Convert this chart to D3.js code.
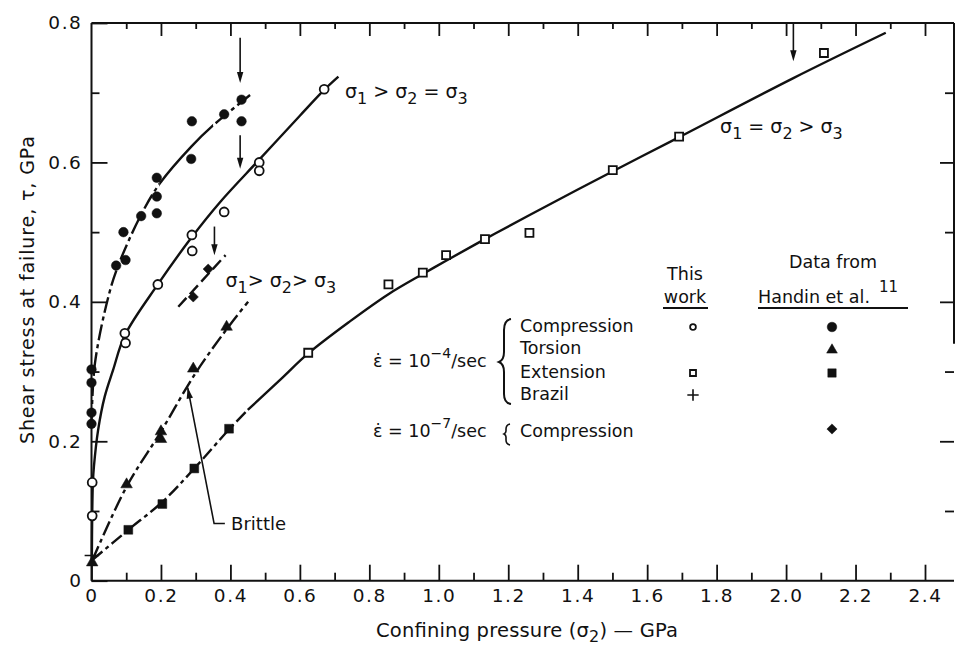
<!DOCTYPE html>
<html><head><meta charset="utf-8">
<script src="https://cdn.jsdelivr.net/npm/d3@7"></script>
<style>body{margin:0;background:#fff}</style>
</head><body>
<svg id="chart" width="957" height="645"></svg>
<script>
// ---------- data ----------
const xMajorTicks = [0, 0.2, 0.4, 0.6, 0.8, 1.0, 1.2, 1.4, 1.6, 1.8, 2.0, 2.2, 2.4];
const xTickLabels = ["0", "0.2", "0.4", "0.6", "0.8", "1.0", "1.2", "1.4", "1.6", "1.8", "2.0", "2.2", "2.4"];
const xMinorTicks = [0.1, 0.3, 0.5, 0.7, 0.9, 1.1, 1.3, 1.5, 1.7, 1.9, 2.1, 2.3];
const yMajorTicks = [0, 0.2, 0.4, 0.6, 0.8];
const yTickLabels = ["0", "0.2", "0.4", "0.6", "0.8"];
const yMinorTicks = [0.1, 0.3, 0.5, 0.7];

// Handin et al. — compression 1e-4/s (filled circles)
const handinCompression = [
  [0.289, 0.659], [0.382, 0.669], [0.432, 0.690], [0.432, 0.659], [0.287, 0.605],
  [0.188, 0.578], [0.188, 0.551], [0.188, 0.527], [0.143, 0.523], [0.092, 0.500],
  [0.071, 0.452], [0.098, 0.460], [0.0, 0.303], [0.0, 0.284], [0.0, 0.241], [0.0, 0.225]
];
// This work — compression (open circles)
const thisCompression = [
  [0.670, 0.705], [0.483, 0.600], [0.483, 0.588], [0.382, 0.529], [0.289, 0.496],
  [0.290, 0.473], [0.191, 0.425], [0.096, 0.355], [0.098, 0.341], [0.002, 0.141], [0.002, 0.093]
];
// This work — extension (open squares)
const thisExtension = [
  [0.624, 0.327], [0.855, 0.425], [0.954, 0.442], [1.021, 0.467], [1.133, 0.490],
  [1.261, 0.499], [1.501, 0.589], [1.692, 0.637], [2.109, 0.757]
];
// Handin et al. — extension (filled squares)
const handinExtension = [[0.106, 0.073], [0.204, 0.110], [0.296, 0.161], [0.396, 0.218]];
// Handin et al. — torsion (filled triangles)
const handinTorsion = [[0.002, 0.026], [0.101, 0.138], [0.200, 0.203], [0.200, 0.214], [0.293, 0.304], [0.389, 0.364]];
// This work — Brazil (+)
const thisBrazil = [[0.001, 0.036]];
// Handin et al. — compression 1e-7/s (diamonds)
const handinSlowCompression = [[0.293, 0.407], [0.336, 0.447]];

// fitted curves
const fitHandinCompression = [[0.0, 0.225], [0.010, 0.312], [0.051, 0.412], [0.080, 0.456], [0.145, 0.527],
  [0.197, 0.570], [0.288, 0.623], [0.350, 0.653], [0.465, 0.700]];
const fitThisCompression = [[0.001, 0.030], [0.002, 0.093], [0.004, 0.141], [0.007, 0.164], [0.019, 0.216],
  [0.038, 0.264], [0.062, 0.302], [0.096, 0.352], [0.191, 0.425], [0.289, 0.493], [0.370, 0.543],
  [0.483, 0.604], [0.600, 0.667], [0.670, 0.704], [0.711, 0.723]];
const fitTorsion = [[0.003, 0.030], [0.100, 0.134], [0.200, 0.214], [0.300, 0.298], [0.400, 0.368], [0.451, 0.400]];
const fitExtensionLow = [[0.003, 0.030], [0.106, 0.073], [0.204, 0.113], [0.296, 0.161], [0.396, 0.217], [0.450, 0.245]];
const fitExtension = [[0.450, 0.245], [0.543, 0.288], [0.624, 0.326], [0.744, 0.372], [0.855, 0.411],
  [0.954, 0.440], [1.021, 0.459], [1.133, 0.490], [1.263, 0.525], [1.500, 0.587], [1.691, 0.636],
  [2.021, 0.721], [2.287, 0.786]];
const fitSlowCompression = [[0.250, 0.393], [0.386, 0.467]];

// vertical marker arrows: [x, yStart, yTip]
const arrowMarks = [[0.428, 0.779, 0.714], [0.428, 0.639, 0.591], [0.354, 0.508, 0.467], [2.021, 0.800, 0.745]];
// "Brittle" leader: label end -> elbow -> tip
const brittleLeader = [[0.384, 0.082], [0.353, 0.082], [0.277, 0.277]];

// ---------- layout ----------
const svg = d3.select("#chart");
const FONT = "'DejaVu Sans', sans-serif";
const x = d3.scaleLinear().domain([0, 2.4]).range([91.5, 925]);
const y = d3.scaleLinear().domain([0, 0.8]).range([580.7, 23]);
const rightEdge = 954;
const INK = "#111";

// frame
const frame = svg.append("g").attr("stroke", INK).attr("stroke-width", 2).attr("fill", "none");
frame.append("line").attr("x1", x(0)).attr("x2", rightEdge).attr("y1", y(0)).attr("y2", y(0));
frame.append("line").attr("x1", x(0)).attr("x2", rightEdge).attr("y1", y(0.8)).attr("y2", y(0.8));
frame.append("line").attr("x1", x(0)).attr("x2", x(0)).attr("y1", y(0)).attr("y2", y(0.8));
frame.append("line").attr("x1", rightEdge).attr("x2", rightEdge).attr("y1", y(0.8)).attr("y2", y(0.34));

function drawAxis(axis, transform, labels) {
  const g = svg.append("g").attr("transform", transform).call(axis);
  g.select(".domain").remove();
  g.selectAll("line").attr("stroke", INK).attr("stroke-width", 1.8);
  g.selectAll("text").attr("font-family", FONT).attr("font-size", 18.5).attr("fill", INK)
    .attr("letter-spacing", 1.6);
  if (!labels) g.selectAll("text").remove();
  return g;
}
// bottom
drawAxis(d3.axisBottom(x).tickValues(xMajorTicks).tickSizeInner(-16).tickSizeOuter(0).tickPadding(8)
  .tickFormat((d, i) => xTickLabels[i]), `translate(0,${y(0)})`, true);
drawAxis(d3.axisBottom(x).tickValues(xMinorTicks).tickSizeInner(-8).tickSizeOuter(0), `translate(0,${y(0)})`, false);
// top
drawAxis(d3.axisTop(x).tickValues(xMajorTicks.slice(1)).tickSizeInner(-13).tickSizeOuter(0), `translate(0,${y(0.8)})`, false);
drawAxis(d3.axisTop(x).tickValues(xMinorTicks).tickSizeInner(-6).tickSizeOuter(0), `translate(0,${y(0.8)})`, false);
// left
drawAxis(d3.axisLeft(y).tickValues(yMajorTicks).tickSizeInner(-16).tickSizeOuter(0).tickPadding(9)
  .tickFormat((d, i) => yTickLabels[i]), `translate(${x(0)},0)`, true);
drawAxis(d3.axisLeft(y).tickValues(yMinorTicks).tickSizeInner(-8).tickSizeOuter(0), `translate(${x(0)},0)`, false);
// right
drawAxis(d3.axisRight(y).tickValues(yMajorTicks.slice(1, 4)).tickSizeInner(-14).tickSizeOuter(0), `translate(${rightEdge},0)`, false);
drawAxis(d3.axisRight(y).tickValues(yMinorTicks).tickSizeInner(-9).tickSizeOuter(0), `translate(${rightEdge},0)`, false);

// axis titles
svg.append("text").attr("x", 376).attr("y", 637).attr("font-family", FONT).attr("font-size", 19.5)
  .attr("fill", INK).attr("textLength", 302).attr("lengthAdjust", "spacing")
  .call(t => { t.append("tspan").text("Confining pressure (σ");
               t.append("tspan").attr("dy", 5).attr("font-size", 16).text("2");
               t.append("tspan").attr("dy", -5).text(") — GPa"); });
svg.append("text").attr("transform", "translate(34,290) rotate(-90)").attr("text-anchor", "middle")
  .attr("font-family", FONT).attr("font-size", 19).attr("fill", INK)
  .attr("textLength", 308).attr("lengthAdjust", "spacing")
  .text("Shear stress at failure, τ, GPa");

// ---------- curves ----------
const line = d3.line().x(d => x(d[0])).y(d => y(d[1])).curve(d3.curveCatmullRom.alpha(0.5));
const curves = svg.append("g").attr("fill", "none").attr("stroke", INK).attr("stroke-width", 2.4);
// Handin compression: dashed with solid middle portion
svg.append("clipPath").attr("id", "solidA").append("rect")
  .attr("x", x(0.195)).attr("width", x(0.35) - x(0.195)).attr("y", 0).attr("height", 645);
svg.append("clipPath").attr("id", "dashA").call(c => {
  c.append("rect").attr("x", 0).attr("width", x(0.195)).attr("y", 0).attr("height", 645);
  c.append("rect").attr("x", x(0.35)).attr("width", 957).attr("y", 0).attr("height", 645);
});
curves.append("path").attr("d", line(fitHandinCompression)).attr("clip-path", "url(#solidA)");
curves.append("path").attr("d", line(fitHandinCompression)).attr("clip-path", "url(#dashA)")
  .attr("stroke-dasharray", "16,4,4,4");
curves.append("path").attr("d", line(fitThisCompression));
curves.append("path").attr("d", line(fitTorsion)).attr("stroke-dasharray", "15,4,4,4");
curves.append("path").attr("d", line(fitExtensionLow)).attr("stroke-dasharray", "13,4,4,4");
curves.append("path").attr("d", line(fitExtension));
curves.append("path").attr("d", line(fitSlowCompression)).attr("stroke-dasharray", "12,5");

// ---------- arrows ----------
const arrows = svg.append("g");
function arrowHead(tx, ty, ang) { // ang: direction of travel (radians)
  const L = 11, W = 3.2;
  const bx = tx - L * Math.cos(ang), by = ty - L * Math.sin(ang);
  const px = -Math.sin(ang) * W, py = Math.cos(ang) * W;
  arrows.append("path").attr("d", `M${tx},${ty}L${bx + px},${by + py}L${bx - px},${by - py}Z`).attr("fill", INK);
}
arrowMarks.forEach(a => {
  arrows.append("line").attr("x1", x(a[0])).attr("x2", x(a[0])).attr("y1", y(a[1])).attr("y2", y(a[2]) - 6)
    .attr("stroke", INK).attr("stroke-width", 1.6);
  arrowHead(x(a[0]), y(a[2]), Math.PI / 2);
});
arrows.append("path").attr("d", d3.line().x(d => x(d[0])).y(d => y(d[1]))(brittleLeader))
  .attr("fill", "none").attr("stroke", INK).attr("stroke-width", 1.6);
{
  const p = brittleLeader[1], q = brittleLeader[2];
  arrowHead(x(q[0]), y(q[1]), Math.atan2(y(q[1]) - y(p[1]), x(q[0]) - x(p[0])));
}
svg.append("text").attr("x", x(0.402)).attr("y", y(0.082)).attr("dy", "0.36em")
  .attr("font-family", FONT).attr("font-size", 18).attr("fill", INK).text("Brittle");

// ---------- points ----------
const pts = svg.append("g");
function plot(data, type, size, filled, rot) {
  pts.selectAll(null).data(data).enter().append("path")
    .attr("d", d3.symbol().type(type).size(size)())
    .attr("transform", d => `translate(${x(d[0])},${y(d[1])})` + (rot ? ` rotate(${rot})` : ""))
    .attr("fill", filled ? INK : "#fff").attr("stroke", INK).attr("stroke-width", filled ? 0.5 : 1.8);
}
const plusType = d3.symbolPlus || d3.symbolCross;
plot(thisCompression, d3.symbolCircle, 62, false);
plot(handinCompression, d3.symbolCircle, 72, true);
plot(thisExtension, d3.symbolSquare, 64, false);
plot(handinExtension, d3.symbolSquare, 78, true);
plot(handinTorsion, d3.symbolTriangle, 58, true);
plot(handinSlowCompression, d3.symbolSquare, 52, true, 45);
pts.selectAll(null).data(thisBrazil).enter().append("path")
  .attr("d", d3.symbol().type(plusType).size(70)())
  .attr("transform", d => `translate(${x(d[0])},${y(d[1])})`)
  .attr("fill", "none").attr("stroke", INK).attr("stroke-width", 1.5);

// ---------- stress-state labels ----------
function sigmaLabel(px, py, parts) {
  const t = svg.append("text").attr("x", px).attr("y", py).attr("font-family", FONT)
    .attr("font-size", 19).attr("fill", INK);
  parts.forEach(p => {
    if (p.sub) t.append("tspan").attr("dy", 6).attr("font-size", 16).text(p.sub);
    else t.append("tspan").attr("dy", p.up ? -6 : 0).text(p.t);
  });
}
sigmaLabel(x(0.73), y(0.6925), [{t: "σ"}, {sub: "1"}, {t: " > σ", up: 1}, {sub: "2"}, {t: " = σ", up: 1}, {sub: "3"}]);
sigmaLabel(x(1.81), y(0.642), [{t: "σ"}, {sub: "1"}, {t: " = σ", up: 1}, {sub: "2"}, {t: " > σ", up: 1}, {sub: "3"}]);
sigmaLabel(x(0.386), y(0.421), [{t: "σ"}, {sub: "1"}, {t: "> σ", up: 1}, {sub: "2"}, {t: "> σ", up: 1}, {sub: "3"}]);

// ---------- legend ----------
const lg = svg.append("g").attr("font-family", FONT).attr("font-size", 17.5).attr("fill", INK);
lg.append("text").attr("x", 685).attr("y", 280).attr("text-anchor", "middle").text("This");
lg.append("text").attr("x", 685).attr("y", 303).attr("text-anchor", "middle").text("work");
lg.append("line").attr("x1", 663).attr("x2", 708).attr("y1", 308).attr("y2", 308).attr("stroke", INK).attr("stroke-width", 1.8);
lg.append("text").attr("x", 833).attr("y", 268).attr("text-anchor", "middle").text("Data from");
lg.append("text").attr("x", 758).attr("y", 303).text("Handin et al.")
  .append("tspan").attr("dy", -11).attr("dx", 9).attr("font-size", 15).text("11");
lg.append("line").attr("x1", 758).attr("x2", 908).attr("y1", 308).attr("y2", 308).attr("stroke", INK).attr("stroke-width", 1.8);

const rowNames = ["Compression", "Torsion", "Extension", "Brazil"];
const rowY = [331.7, 354.3, 377.7, 400];
rowNames.forEach((n, i) => lg.append("text").attr("x", 520).attr("y", rowY[i]).text(n));
lg.append("text").attr("x", 520).attr("y", 436.7).text("Compression");

function rateLabel(py, exp) {
  const t = lg.append("text").attr("x", 373).attr("y", py);
  t.append("tspan").text("ε\u0307 = 10");
  t.append("tspan").attr("dy", -9).attr("font-size", 14).text(exp);
  t.append("tspan").attr("dy", 9).text("/sec");
}
rateLabel(366.7, "−4");
rateLabel(436.7, "−7");
lg.append("path").attr("d", "M511,319 Q504,320 504,330 L504,352 Q504,360 499,362 Q504,364 504,372 L504,394 Q504,403 511,404")
  .attr("fill", "none").attr("stroke", INK).attr("stroke-width", 2);
lg.append("path").attr("d", "M510,424 Q506,425 506,429 L506,431 Q506,433 504,434 Q506,435 506,437 L506,440 Q506,444 510,445")
  .attr("fill", "none").attr("stroke", INK).attr("stroke-width", 1.6);

// legend symbols
const colThis = 693, colHandin = 832;
const legSym = (cx, cy, type, size, filled, rot) => lg.append("path")
  .attr("d", d3.symbol().type(type).size(size)())
  .attr("transform", `translate(${cx},${cy})` + (rot ? ` rotate(${rot})` : ""))
  .attr("fill", filled ? INK : "#fff").attr("stroke", INK).attr("stroke-width", filled ? 0.5 : 1.8);
legSym(colThis, 327, d3.symbolCircle, 26, false);
legSym(colThis, 373, d3.symbolSquare, 36, false);
lg.append("path").attr("d", d3.symbol().type(plusType).size(44)()).attr("transform", `translate(${colThis},395)`)
  .attr("fill", "none").attr("stroke", INK).attr("stroke-width", 1.6);
legSym(colHandin, 327, d3.symbolCircle, 72, true);
legSym(colHandin, 350, d3.symbolTriangle, 50, true);
legSym(colHandin, 373, d3.symbolSquare, 70, true);
legSym(colHandin, 429, d3.symbolSquare, 52, true, 45);
</script>
</body></html>
